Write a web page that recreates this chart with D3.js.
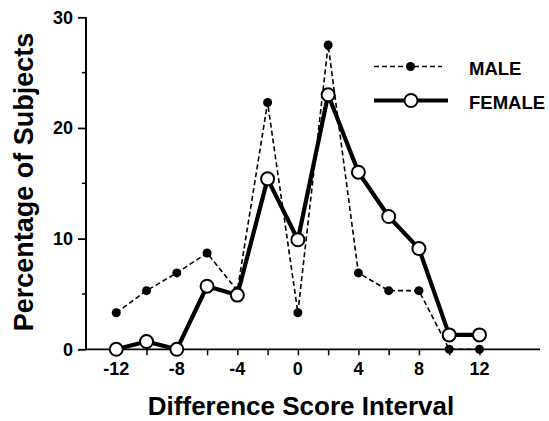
<!DOCTYPE html>
<html>
<head>
<meta charset="utf-8">
<script src="https://cdn.jsdelivr.net/npm/d3@7"></script>
<style>
  html, body { margin: 0; padding: 0; background: #fff; }
  svg { display: block; font-family: "Liberation Sans", Arial, Helvetica, sans-serif; }
</style>
</head>
<body>
<svg id="chart" width="549" height="421"></svg>
<script>
// ---- data ----
const intervals = [-12, -10, -8, -6, -4, -2, 0, 2, 4, 6, 8, 10, 12];
const maleValues = [3.3, 5.3, 6.9, 8.7, 5.3, 22.3, 3.3, 27.5, 6.9, 5.3, 5.3, 0, 0];
const femaleValues = [0, 0.7, 0, 5.7, 4.9, 15.4, 9.9, 23.0, 16.0, 12.0, 9.1, 1.3, 1.3];
const xTickLabels = [-12, -8, -4, 0, 4, 8, 12];
const xMinorTicks = [-12, -10, -8, -6, -4, -2, 0, 2, 4, 6, 8, 10, 12];
const yTickLabels = [0, 10, 20, 30];
const yMinorTicks = [5, 15, 25];
const seriesNames = ["MALE", "FEMALE"];

// ---- layout ----
const svg = d3.select("#chart");
const x = d3.scaleLinear().domain([-14, 16]).range([86, 540]);
const y = d3.scaleLinear().domain([0, 30]).range([349.3, 17.3]);

// X axis
const gx = svg.append("g").attr("transform", `translate(0,${y(0)})`);
gx.call(d3.axisBottom(x).tickValues(xMinorTicks).tickSize(6).tickFormat(""))
  .call(g => g.select(".domain").remove())
  .call(g => g.selectAll("line").attr("stroke", "#000").attr("stroke-width", 1.5));
gx.append("line").attr("x1", x(-14)).attr("x2", x(16)).attr("stroke", "#000").attr("stroke-width", 1.8);
gx.selectAll("text.lab").data(xTickLabels).enter().append("text")
  .attr("class", "lab")
  .attr("x", d => x(d)).attr("y", 26)
  .attr("text-anchor", "middle")
  .attr("fill", "#000")
  .attr("font-family", "Liberation Sans, Arial, sans-serif")
  .attr("font-size", 18).attr("font-weight", "bold")
  .text(d => String(d));

// Y axis
const gy = svg.append("g").attr("transform", `translate(${x(-14)},0)`);
gy.call(d3.axisLeft(y).tickValues(yTickLabels).tickSize(8).tickPadding(5).tickFormat(d => String(d)))
  .call(g => g.select(".domain").remove())
  .call(g => g.selectAll("line").attr("stroke", "#000").attr("stroke-width", 1.8))
  .call(g => g.selectAll("text").attr("font-size", 18).attr("font-weight", "bold")
                 .attr("font-family", "Liberation Sans, Arial, sans-serif").attr("fill", "#000"));
gy.selectAll("line.minor").data(yMinorTicks).enter().append("line")
  .attr("class", "minor").attr("x1", -4).attr("x2", 0)
  .attr("y1", d => y(d)).attr("y2", d => y(d))
  .attr("stroke", "#000").attr("stroke-width", 1.5);
gy.append("line").attr("y1", y(0)).attr("y2", y(30)).attr("stroke", "#000").attr("stroke-width", 2);

// Axis titles
svg.append("text")
  .attr("x", 301).attr("y", 415)
  .attr("text-anchor", "middle")
  .attr("font-size", 26).attr("font-weight", "bold")
  .text("Difference Score Interval");
svg.append("text")
  .attr("transform", "translate(33,182) rotate(-90)")
  .attr("text-anchor", "middle")
  .attr("font-size", 27).attr("font-weight", "bold")
  .text("Percentage of Subjects");

// Series
const maleData = intervals.map((d, i) => ({ x: d, y: maleValues[i] }));
const femaleData = intervals.map((d, i) => ({ x: d, y: femaleValues[i] }));
const line = d3.line().x(d => x(d.x)).y(d => y(d.y));

svg.append("path").datum(maleData).attr("d", line)
  .attr("fill", "none").attr("stroke", "#000").attr("stroke-width", 1.6)
  .attr("stroke-dasharray", "5,3");
svg.append("path").datum(femaleData).attr("d", line)
  .attr("fill", "none").attr("stroke", "#000").attr("stroke-width", 4.2)
  .attr("stroke-linejoin", "round");

svg.selectAll("circle.male").data(maleData).enter().append("circle")
  .attr("class", "male").attr("cx", d => x(d.x)).attr("cy", d => y(d.y))
  .attr("r", 4.5).attr("fill", "#000");
svg.selectAll("circle.female").data(femaleData).enter().append("circle")
  .attr("class", "female").attr("cx", d => x(d.x)).attr("cy", d => y(d.y))
  .attr("r", 6.5).attr("fill", "#fff").attr("stroke", "#000").attr("stroke-width", 2);

// Legend
const leg = svg.append("g");
leg.append("line").attr("x1", 374).attr("x2", 442).attr("y1", 66.5).attr("y2", 66.5)
  .attr("stroke", "#000").attr("stroke-width", 1.6).attr("stroke-dasharray", "5,3");
leg.append("circle").attr("cx", 410.5).attr("cy", 66.5).attr("r", 4.5).attr("fill", "#000");
leg.append("line").attr("x1", 374).attr("x2", 448).attr("y1", 100.5).attr("y2", 100.5)
  .attr("stroke", "#000").attr("stroke-width", 4);
leg.append("circle").attr("cx", 411).attr("cy", 100.5).attr("r", 6.5)
  .attr("fill", "#fff").attr("stroke", "#000").attr("stroke-width", 2);
leg.selectAll("text").data(seriesNames).enter().append("text")
  .attr("x", 469).attr("y", (d, i) => 75 + i * 34)
  .attr("font-size", 18.5).attr("font-weight", "bold")
  .text(d => d);
</script>
</body>
</html>
